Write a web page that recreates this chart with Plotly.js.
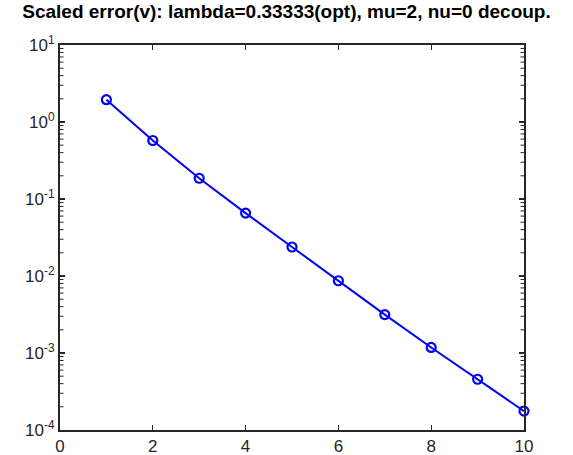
<!DOCTYPE html>
<html>
<head>
<meta charset="utf-8">
<script src="https://cdn.plot.ly/plotly-3.0.1.min.js"></script>
<style>html,body{margin:0;padding:0;background:#fff}#chart{width:573px;height:455px}</style>
</head>
<body>
<div id="chart"></div>
<script>
const iterations = [1, 2, 3, 4, 5, 6, 7, 8, 9, 10];
const scaledError = [1.95, 0.575, 0.186, 0.0656, 0.0238, 0.00867, 0.00315, 0.00118, 0.000456, 0.000176];
const xTicks = [0, 2, 4, 6, 8, 10];
const yTicks = [1e-4, 1e-3, 1e-2, 1e-1, 1, 10];
const yTickLabels = ['10<sup>-4</sup>', '10<sup>-3</sup>', '10<sup>-2</sup>', '10<sup>-1</sup>', '10<sup>0</sup>', '10<sup>1</sup>'];
const titleText = "Scaled error(v): lambda=0.33333(opt), mu=2, nu=0 decoup.";

const minorTicks = [];
for (let k = -4; k < 1; k++) for (let m = 2; m <= 9; m++) minorTicks.push(m * Math.pow(10, k));

const margin = {l: 60, r: 49, t: 45, b: 25};
const plotW = 573 - margin.l - margin.r;
const minorLen = 3.5 / plotW;
const shapes = [];
minorTicks.forEach(v => {
  shapes.push({type: 'line', xref: 'paper', yref: 'y', x0: 0, x1: minorLen, y0: v, y1: v, line: {color: '#262626', width: 1}});
  shapes.push({type: 'line', xref: 'paper', yref: 'y', x0: 1 - minorLen, x1: 1, y0: v, y1: v, line: {color: '#262626', width: 1}});
});

const fontFam = 'Liberation Sans, Arial, sans-serif';
const axisCommon = {
  showline: true, mirror: 'ticks', linecolor: '#262626', linewidth: 2,
  ticks: 'inside', ticklen: 5, tickwidth: 1.2, tickcolor: '#262626',
  showgrid: false, zeroline: false,
  tickfont: {family: fontFam, size: 17, color: '#262626'}
};

Plotly.newPlot('chart', [{
  x: iterations, y: scaledError, type: 'scatter', mode: 'lines+markers',
  line: {color: '#0000FF', width: 2},
  marker: {symbol: 'circle-open', size: 9, color: '#0000FF', line: {width: 2.2, color: '#0000FF'}},
  showlegend: false, cliponaxis: false
}], {
  width: 573, height: 455,
  margin: margin,
  paper_bgcolor: '#fff', plot_bgcolor: '#fff',
  title: {text: '<b>' + titleText + '</b>', x: 0.5, xanchor: 'center', y: 0.99, yanchor: 'top',
          font: {family: fontFam, size: 19, color: '#000'}},
  xaxis: Object.assign({}, axisCommon, {range: [0, 10], tickvals: xTicks}),
  yaxis: Object.assign({}, axisCommon, {type: 'log', range: [-4, 1], tickvals: yTicks, ticktext: yTickLabels}),
  shapes: shapes
}, {displayModeBar: false, staticPlot: true});
</script>
</body>
</html>
